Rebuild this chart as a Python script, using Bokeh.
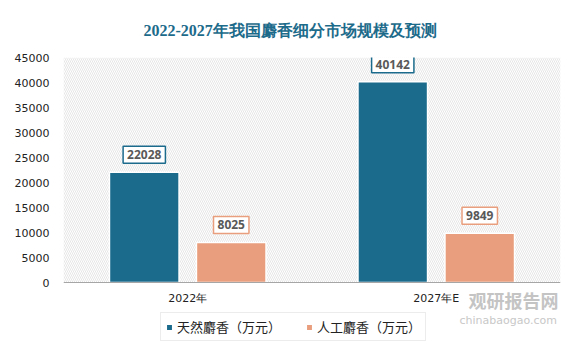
from bokeh.plotting import figure
from bokeh.models import (ColumnDataSource, FactorRange, Range1d, BoxAnnotation, Span,
                          Legend, LegendItem, Label, FixedTicker, NumeralTickFormatter)
from bokeh.transform import dodge
from bokeh.core.properties import value
from bokeh.embed import file_html
from bokeh.resources import INLINE

# ---- data ----
categories = ["2022年", "2027年E"]
natural = [22028, 40142]
artificial = [8025, 9849]
series_names = ["天然麝香（万元）", "人工麝香（万元）"]
y_ticks = [0, 5000, 10000, 15000, 20000, 25000, 30000, 35000, 40000, 45000]
title_text = "2022-2027年我国麝香细分市场规模及预测"

BLUE = "#1b6b8d"
ORANGE = "#e99f7d"

src = ColumnDataSource(dict(
    cat=categories,
    natural=natural,
    artificial=artificial,
    natural_txt=[str(v) for v in natural],
    artificial_txt=[str(v) for v in artificial],
))

# frame extends below zero so the legend / watermark live inside it (room under the axis)
p = figure(x_range=FactorRange(factors=categories), y_range=Range1d(-14800, 45000),
           frame_width=497, frame_height=299, output_backend="svg", toolbar_location=None,
           min_border_left=63, min_border_right=24, min_border_top=57, min_border_bottom=0,
           background_fill_color="white", border_fill_color="white", outline_line_color=None)

# hatched plot background (above zero only)
p.add_layout(BoxAnnotation(bottom=0, fill_alpha=0, line_color=None, hatch_pattern="\\",
                           hatch_color="#e0e0e0", hatch_scale=4, hatch_weight=0.8, level="underlay"))

# title
p.title.text = title_text
p.title.align = "left"
p.title.offset = 80
p.title.standoff = 38
p.title.text_font = "Liberation Serif"
p.title.text_font_size = "16px"
p.title.text_font_style = "bold"
p.title.text_color = "#1d6b8b"

r1 = p.vbar(x=dodge("cat", -0.175, range=p.x_range), top="natural", width=0.28, source=src,
            fill_color=BLUE, line_color="white", line_width=1.5)
r2 = p.vbar(x=dodge("cat", 0.175, range=p.x_range), top="artificial", width=0.28, source=src,
            fill_color=ORANGE, line_color="white", line_width=1.5)

common = dict(text_font=value("Open Sans"), text_font_size="12px", text_font_style="bold",
              text_color="#595959", text_align="center", text_baseline="bottom",
              background_fill_color="white", y_offset=-9, padding=4, border_line_width=1.5)
p.text(x=dodge("cat", -0.175, range=p.x_range), y="natural", text="natural_txt",
       source=src, border_line_color=BLUE, **common)
p.text(x=dodge("cat", 0.175, range=p.x_range), y="artificial", text="artificial_txt",
       source=src, border_line_color=ORANGE, **common)

# category axis: line at zero + category labels
p.add_layout(Span(location=0, dimension="width", line_color="#a6a6a6", line_width=1))
p.text(x="cat", y=0, text="cat", source=src, text_font=value("DejaVu Sans"),
       text_font_size="11px", text_color="#222222", text_align="center",
       text_baseline="middle", y_offset=16)
p.xaxis.visible = False

# y axis
p.xgrid.grid_line_color = None
p.ygrid.grid_line_color = None
p.yaxis.ticker = FixedTicker(ticks=y_ticks)
p.yaxis.formatter = NumeralTickFormatter(format="0")
p.yaxis.axis_line_color = None
p.yaxis.major_tick_line_color = None
p.yaxis.minor_tick_line_color = None
p.yaxis.major_label_standoff = 8
p.yaxis.major_label_text_font = "DejaVu Sans"
p.yaxis.major_label_text_font_size = "11px"
p.yaxis.major_label_text_color = "#222222"

legend = Legend(items=[LegendItem(label=series_names[0], renderers=[r1]),
                       LegendItem(label=series_names[1], renderers=[r2])],
                orientation="horizontal", location=(97, 15),
                label_text_font="Noto Sans CJK SC", label_text_font_size="13px",
                label_text_color="#222222", glyph_width=8, glyph_height=8,
                label_standoff=4, spacing=24, padding=4, margin=0, label_height=16,
                border_line_color="#d9d9d9", border_line_width=1)
p.add_layout(legend, "center")

# watermark
p.add_layout(Label(x=405, y=44, x_units="screen", y_units="screen", text="观研报告网",
                   text_font="Noto Sans CJK SC", text_font_size="18px", text_font_style="bold",
                   text_color="#c4c4c4"))
p.add_layout(Label(x=396, y=30, x_units="screen", y_units="screen", text="chinabaogao.com",
                   text_font="DejaVu Sans", text_font_size="11px", text_color="#c8c8c8"))

open("out.html", "w").write(file_html(p, INLINE))
